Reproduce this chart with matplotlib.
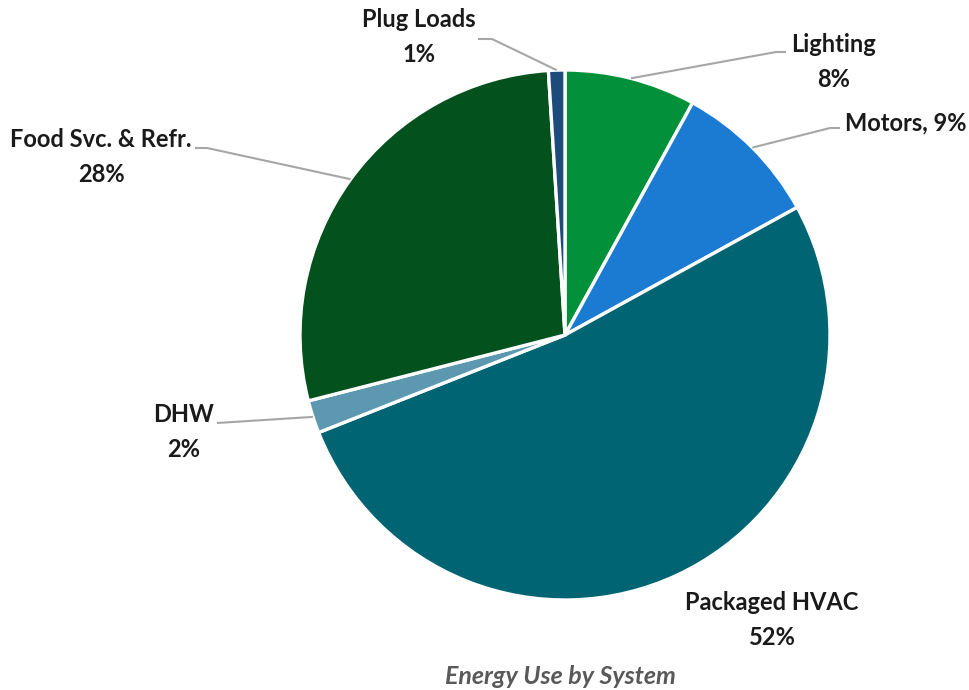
import numpy as np
import matplotlib
matplotlib.use("Agg")
import matplotlib.pyplot as plt

# Energy use shares by end-use system (percent)
systems = ["Lighting", "Motors", "Packaged HVAC", "DHW", "Food Svc. & Refr.", "Plug Loads"]
shares = [8, 9, 52, 2, 28, 1]
colors = ["#02913A", "#1B7BD3", "#016472", "#5C98AF", "#03521E", "#1D4C7C"]

W, H = 969, 690
fig = plt.figure(figsize=(W / 100, H / 100), dpi=100)
ax = fig.add_axes([0, 0, 1, 1])

cx, cy, r = 565, H - 335, 265
wedges, _ = ax.pie(
    shares, colors=colors, startangle=90, counterclock=False,
    center=(cx, cy), radius=r, frame=True,
    wedgeprops=dict(edgecolor="white", linewidth=2.4),
)
ax.set_xlim(0, W)
ax.set_ylim(0, H)
ax.set_aspect("equal")
ax.axis("off")

font = ["Lato", "DejaVu Sans"]
lab_kw = dict(fontsize=17, fontweight="bold", color="#1a1a1a", family=font,
              ha="center", va="center", linespacing=1.6)
line_kw = dict(color="#A6A6A6", linewidth=1.5, solid_capstyle="butt")

def edge_point(i):
    w = wedges[i]
    mid = np.deg2rad((w.theta1 + w.theta2) / 2)
    return cx + r * np.cos(mid), cy + r * np.sin(mid)

# (label text, label centre, leader start, leader elbow) in pixel layout
labels = {
    "Lighting": ("Lighting\n8%", (834, 62), (786, 52), (776, 52)),
    "Motors": ("Motors, 9%", (906, 123), (840, 128), (830, 128)),
    "Packaged HVAC": ("Packaged HVAC\n52%", (772, 620), None, None),
    "DHW": ("DHW\n2%", (184, 432), (217, 423), None),
    "Food Svc. & Refr.": ("Food Svc. & Refr.\n28%", (101, 157), (195, 148), (207, 148)),
    "Plug Loads": ("Plug Loads\n1%", (419, 37), (478, 39), (492, 39)),
}

for i, name in enumerate(systems):
    text, (tx, ty), start, elbow = labels[name]
    ax.text(tx, H - ty, text, **lab_kw)
    if start is not None:
        ex, ey = edge_point(i)
        pts = [start] + ([elbow] if elbow else [])
        xs = [p[0] for p in pts] + [ex]
        ys = [H - p[1] for p in pts] + [ey]
        ax.plot(xs, ys, **line_kw)

ax.text(560, H - 676, "Energy Use by System", fontsize=18, fontweight="bold",
        style="italic", color="#595959", family=font, ha="center", va="center")

fig.savefig("out.png", dpi=100)
